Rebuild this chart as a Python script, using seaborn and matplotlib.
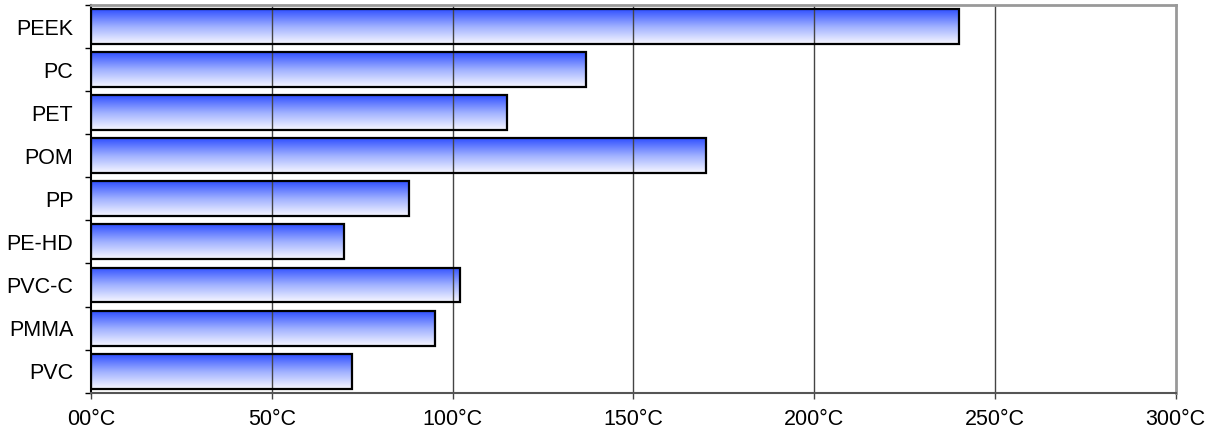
import numpy as np
import pandas as pd
import matplotlib
matplotlib.use("Agg")
import matplotlib.pyplot as plt
import seaborn as sns
from matplotlib.colors import LinearSegmentedColormap

categories = ["PEEK", "PC", "PET", "POM", "PP", "PE-HD", "PVC-C", "PMMA", "PVC"]
temps = [240, 137, 115, 170, 88, 70, 102, 95, 72]
xticks = [0, 50, 100, 150, 200, 250, 300]
xticklabels = ["00°C", "50°C", "100°C", "150°C", "200°C", "250°C", "300°C"]

sns.set_theme(style="white")
plt.rcParams['font.family'] = ['Liberation Sans', 'DejaVu Sans']

df = pd.DataFrame({"material": categories, "temp": temps})

fig = plt.figure(figsize=(12.11, 4.32), dpi=100)
ax = fig.add_axes([0.0754, 0.0910, 0.8954, 0.8974])

sns.barplot(data=df, x="temp", y="material", orient="h", ax=ax,
            width=0.81, color="#3355ff", edgecolor="black", linewidth=1.6,
            saturation=1)

cmap = LinearSegmentedColormap.from_list("g", ["#3050ff", "#9fb0ff", "#f8f8ff"])
grad = np.linspace(0, 1, 256).reshape(-1, 1)
for p in ax.patches:
    x0, y0 = p.get_x(), p.get_y()
    w, h = p.get_width(), p.get_height()
    top = min(y0, y0 + h)
    bot = max(y0, y0 + h)
    im = ax.imshow(grad, cmap=cmap, aspect="auto",
                   extent=[x0, x0 + w, bot, top], origin="upper",
                   zorder=p.get_zorder() - 0.1, interpolation="bilinear")
    im.set_clip_path(p)
    p.set_facecolor("none")
    p.set_zorder(3)

ax.set_xlim(0, 300)
ax.set_ylim(len(categories) - 0.5, -0.5)
ax.set_xticks(xticks)
ax.set_xticklabels(xticklabels, fontsize=15.5, color="black")
ax.set_yticks(range(len(categories)))
ax.set_yticklabels(categories, fontsize=15.5, color="black")
ax.set_yticks(np.arange(-0.5, len(categories), 1), minor=True)
ax.set_xlabel("")
ax.set_ylabel("")

ax.tick_params(axis="y", which="major", length=0, pad=13)
ax.tick_params(axis="y", which="minor", length=4.5, width=1, color="black", direction="out", left=True)
ax.tick_params(axis="x", which="major", length=4, width=1, color="#444444", direction="out", bottom=True, pad=8)

for xv in xticks[1:-1]:
    ax.axvline(xv, color="#444444", linewidth=1, zorder=1)

ax.spines["left"].set_color("black")
ax.spines["left"].set_linewidth(1.5)
ax.spines["bottom"].set_color("#555555")
ax.spines["bottom"].set_linewidth(1.5)
ax.spines["top"].set_color("#999999")
ax.spines["top"].set_linewidth(2)
ax.spines["right"].set_color("#999999")
ax.spines["right"].set_linewidth(2)
for s in ax.spines.values():
    s.set_visible(True)

fig.savefig("out.png", dpi=100)
